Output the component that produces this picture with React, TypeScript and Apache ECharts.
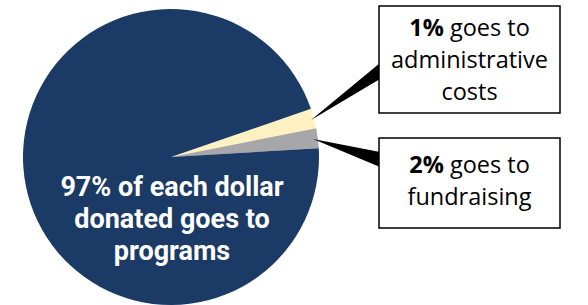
import React, { useEffect, useRef } from "react";
import * as echarts from "echarts";

const categories = ["Administrative costs", "Fundraising", "Programs"];
const values = [1, 2, 97];
const sliceColors = ["#fff1c1", "#a7a7aa", "#1b3a66"];
const centerLines = ["97% of each dollar", "donated goes to", "programs"];
const adminLines = ["1%", " goes to", "administrative", "costs"];
const fundLines = ["2%", " goes to", "fundraising"];

const FONT = "'Open Sans', 'Noto Sans', sans-serif";
const CENTER_FONT = "Roboto, 'Open Sans', sans-serif";

export default function App() {
  const ref = useRef<HTMLDivElement>(null);
  useEffect(() => {
    document.body.style.margin = "0";
    const chart = echarts.init(ref.current!, null, { renderer: "svg" });
    const boxText = (style: any) => ({
      fill: "#000",
      fontFamily: FONT,
      fontSize: 23.5,
      align: "center",
      verticalAlign: "middle",
      lineHeight: 32,
      rich: { b: { fontWeight: "bold", fontSize: 23.5, fontFamily: FONT, lineHeight: 32 } },
      ...style,
    });
    chart.setOption({
      animation: false,
      series: [
        {
          type: "pie",
          center: [171, 157],
          radius: 148,
          startAngle: 19,
          clockwise: true,
          minAngle: 7.8,
          silent: true,
          z: 1,
          label: { show: false },
          labelLine: { show: false },
          itemStyle: { borderWidth: 0 },
          data: categories.map((c, i) => ({
            name: c,
            value: values[i],
            itemStyle: { color: sliceColors[i] },
          })),
        },
      ],
      graphic: [
        ...centerLines.map((line, i) => ({
          type: "text",
          x: 172,
          y: 187 + i * 32,
          z: 100,
          style: {
            text: line,
            fill: "#ffffff",
            fontFamily: CENTER_FONT,
            fontSize: 27,
            fontWeight: "bold",
            align: "center",
            verticalAlign: "middle",
            lineHeight: 29,
          },
        })),
        {
          type: "polygon",
          z: 100,
          shape: { points: [[311, 120], [380, 63], [380, 79]] },
          style: { fill: "#000" },
        },
        {
          type: "polygon",
          z: 100,
          shape: { points: [[313, 139], [380, 152], [380, 167]] },
          style: { fill: "#000" },
        },
        {
          type: "rect",
          z: 100,
          shape: { x: 379, y: 6, width: 181, height: 107 },
          style: { fill: "#fff", stroke: "#000", lineWidth: 1.5 },
        },
        {
          type: "rect",
          z: 100,
          shape: { x: 379, y: 138, width: 181, height: 90 },
          style: { fill: "#fff", stroke: "#000", lineWidth: 1.5 },
        },
        {
          type: "text",
          z: 101,
          x: 469.5,
          y: 59,
          style: boxText({
            text: `{b|${adminLines[0]}}${adminLines[1]}\n${adminLines[2]}\n${adminLines[3]}`,
          }),
        },
        {
          type: "text",
          z: 101,
          x: 469.5,
          y: 180,
          style: boxText({
            text: `{b|${fundLines[0]}}${fundLines[1]}\n${fundLines[2]}`,
          }),
        },
      ],
    });
    return () => chart.dispose();
  }, []);
  return <div ref={ref} style={{ width: 588, height: 305 }} />;
}
